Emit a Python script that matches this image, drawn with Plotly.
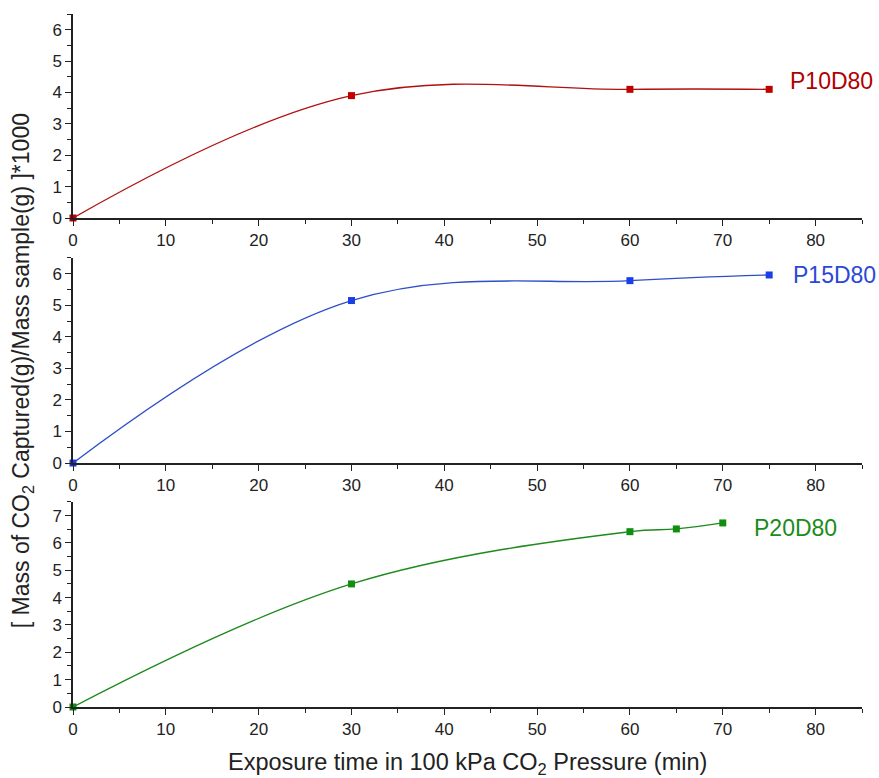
import plotly.graph_objects as go
from plotly.subplots import make_subplots

# Data
x_p10 = [0, 30, 60, 75]
y_p10 = [0, 3.9, 4.1, 4.1]
x_p15 = [0, 30, 60, 75]
y_p15 = [0, 5.15, 5.78, 5.96]
x_p20 = [0, 30, 60, 65, 70]
y_p20 = [0, 4.5, 6.41, 6.51, 6.73]

series = [
    ("P10D80", x_p10, y_p10, "#b01010", "#c00000", "#b00000", 77.0, 4.38, 6.5, 7),
    ("P15D80", x_p15, y_p15, "#2f4fc8", "#1a3ee8", "#2a48d8", 77.3, 5.95, 6.5, 7),
    ("P20D80", x_p20, y_p20, "#1e8a1e", "#0f8f0f", "#1a8c1a", 73.1, 6.56, 7.5, 8),
]

fig = make_subplots(rows=3, cols=1, shared_xaxes=False, vertical_spacing=0.05)

font_fam = "Liberation Sans, Arial, sans-serif"
for i, (name, xs, ys, lc, mc, tc, lx, ly, ymax, ntick) in enumerate(series, start=1):
    fig.add_trace(go.Scatter(
        x=xs, y=ys, mode="lines+markers", name=name,
        line=dict(color=lc, width=1.3, shape="spline", smoothing=1.1),
        marker=dict(symbol="square", size=7, color=mc),
        showlegend=False, cliponaxis=False,
    ), row=i, col=1)
    fig.add_annotation(x=lx, y=ly, xref=f"x{i}", yref=f"y{i}", text=name,
                       showarrow=False, xanchor="left", yanchor="middle",
                       font=dict(size=23, color=tc, family=font_fam))
    fig.update_xaxes(range=[0, 85], tickvals=list(range(0, 81, 10)),
                     ticks="outside", ticklen=6, tickwidth=1.2, tickcolor="#222",
                     minor=dict(ticks="outside", dtick=5, tick0=0, ticklen=4, tickcolor="#222", tickwidth=1),
                     showline=True, linecolor="#222", linewidth=1.5,
                     showgrid=False, zeroline=False,
                     tickfont=dict(size=17, color="#222", family=font_fam),
                     row=i, col=1)
    fig.update_yaxes(range=[0, ymax], tickvals=list(range(0, ntick)),
                     ticks="outside", ticklen=6, tickwidth=1.2, tickcolor="#222",
                     minor=dict(ticks="outside", dtick=0.5, tick0=0, ticklen=4, tickcolor="#222", tickwidth=1),
                     showline=True, linecolor="#222", linewidth=1.5,
                     showgrid=False, zeroline=False,
                     tickfont=dict(size=17, color="#222", family=font_fam),
                     row=i, col=1)

fig.update_layout(
    yaxis=dict(domain=[0.7056, 1.0]),
    yaxis2=dict(domain=[0.352, 0.648]),
    yaxis3=dict(domain=[0.0, 0.296]),
)

fig.add_annotation(x=-0.063, y=0.485, xref="paper", yref="paper",
                   text="[ Mass of CO<sub>2</sub> Captured(g)/Mass sample(g) ]*1000",
                   textangle=-90, showarrow=False, xanchor="center", yanchor="middle",
                   font=dict(size=23, color="#222", family=font_fam))
fig.add_annotation(x=0.5, y=-0.081, xref="paper", yref="paper",
                   text="Exposure time in 100 kPa CO<sub>2</sub> Pressure (min)",
                   showarrow=False, xanchor="center", yanchor="middle",
                   font=dict(size=23.5, color="#222", family=font_fam))

fig.update_layout(
    width=879, height=778,
    margin=dict(l=73, r=17, t=14, b=71),
    plot_bgcolor="white", paper_bgcolor="white",
)

fig.write_html("out.html")
